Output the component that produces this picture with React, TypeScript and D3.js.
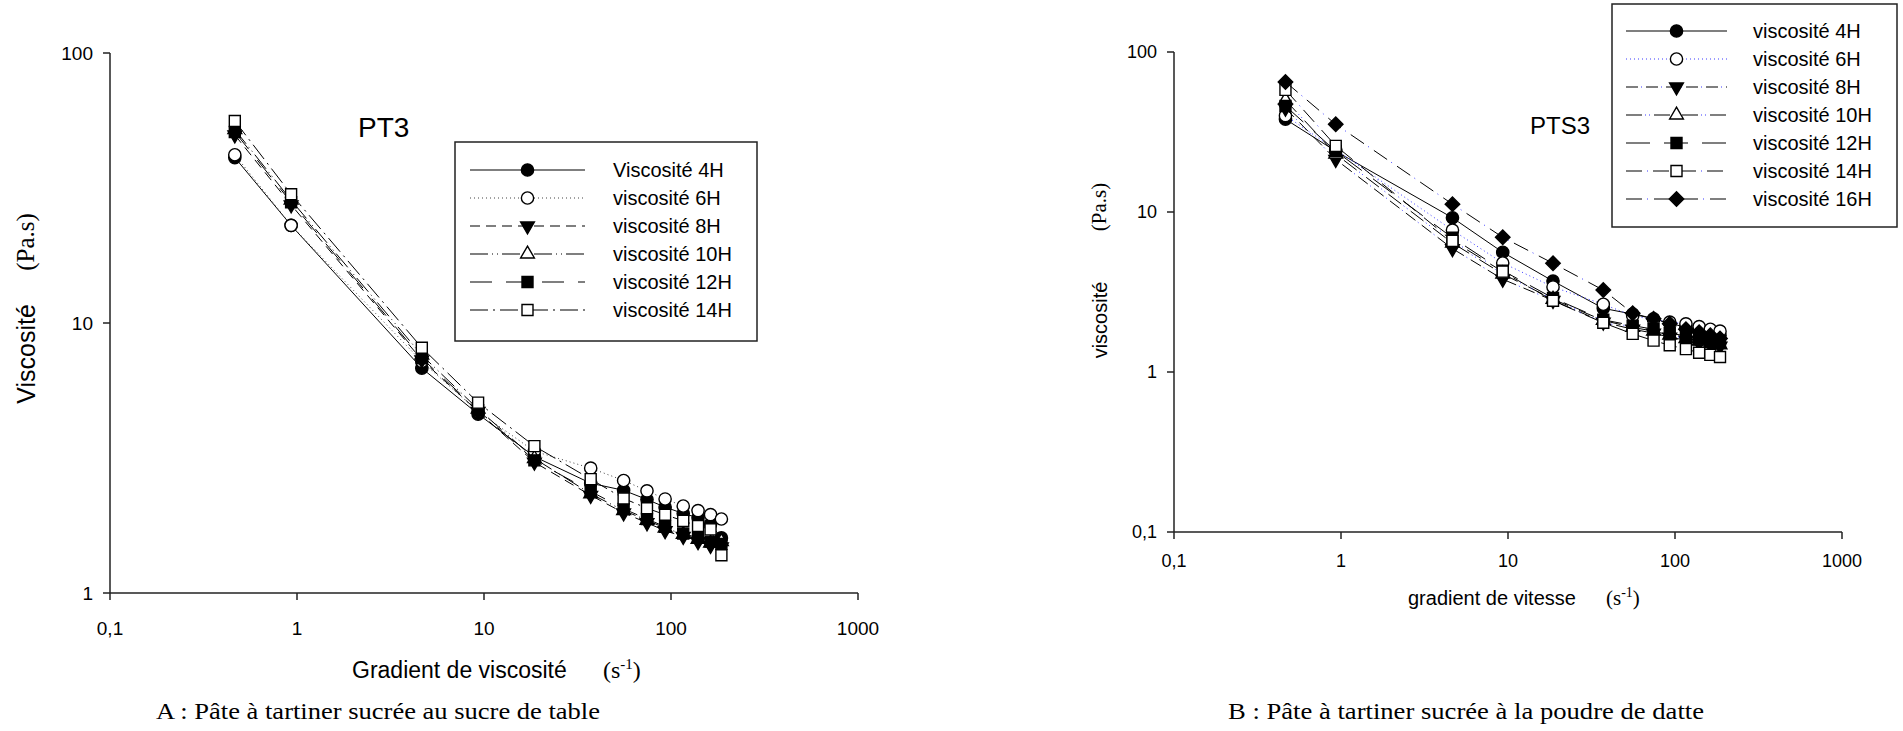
import React from "react";
import * as d3 from "d3";

// shear rate (s-1), same for every series
const shearRate = [0.465, 0.93, 4.65, 9.3, 18.6, 37.2, 55.8, 74.4, 93, 116.25, 139.5, 162.75, 186];
const xTicks = [0.1, 1, 10, 100, 1000];
const yTicksA = [1, 10, 100];
const yTicksB = [0.1, 1, 10, 100];

// A : PT3
const labelsA = ["Viscosité 4H", "viscosité 6H", "viscosité 8H", "viscosité 10H", "viscosité 12H", "viscosité 14H"];
const visc4hA = [41, 23, 6.8, 4.6, 3.2, 2.55, 2.4, 2.22, 2.08, 1.97, 1.9, 1.8, 1.6];
const visc6hA = [42, 23, 7.2, 4.7, 3.35, 2.9, 2.61, 2.39, 2.23, 2.1, 2.02, 1.95, 1.88];
const visc8hA = [49.7, 27.4, 7.3, 4.7, 3.05, 2.3, 1.98, 1.82, 1.7, 1.62, 1.55, 1.5, 1.48];
const visc10hA = [52, 28.5, 7.6, 4.8, 3.15, 2.33, 2.02, 1.86, 1.74, 1.65, 1.58, 1.53, 1.55];
const visc12hA = [51, 28, 7.4, 4.75, 3.1, 2.38, 2.05, 1.88, 1.76, 1.66, 1.6, 1.55, 1.52];
const visc14hA = [56, 30, 8.1, 5.07, 3.5, 2.64, 2.24, 2.06, 1.95, 1.85, 1.77, 1.72, 1.38];

// B : PTS3
const labelsB = ["viscosité 4H", "viscosité 6H", "viscosité 8H", "viscosité 10H", "viscosité 12H", "viscosité 14H", "viscosité 16H"];
const visc4hB = [38, 24, 9.2, 5.6, 3.7, 2.5, 2.3, 2.15, 2.02, 1.9, 1.82, 1.75, 1.7];
const visc6hB = [40, 24.5, 7.7, 4.8, 3.4, 2.65, 2.25, 2.12, 2.05, 2.0, 1.92, 1.85, 1.8];
const visc8hB = [44.5, 21.3, 5.9, 3.8, 2.8, 2.05, 1.85, 1.75, 1.65, 1.58, 1.52, 1.48, 1.45];
const visc10hB = [50, 23, 6.4, 4.1, 2.85, 2.1, 1.9, 1.8, 1.7, 1.62, 1.56, 1.5, 1.48];
const visc12hB = [46, 24, 6.9, 4.3, 2.9, 2.12, 1.95, 1.85, 1.75, 1.68, 1.6, 1.55, 1.52];
const visc14hB = [58, 25.9, 6.6, 4.24, 2.79, 2.03, 1.73, 1.57, 1.47, 1.39, 1.32, 1.28, 1.24];
const visc16hB = [65, 35.3, 11.2, 6.95, 4.78, 3.25, 2.33, 2.15, 2.0, 1.85, 1.77, 1.7, 1.62];

const SANS = "'Liberation Sans', Arial, sans-serif";
const SERIF = "'Liberation Serif', 'Times New Roman', serif";
const BLUE = "#3a3aff";

type Layer = { color: string; dash: string };
type Style = { layers: Layer[]; marker: string; filled: boolean };

const stylesA: Style[] = [
  { layers: [{ color: "#000", dash: "none" }], marker: "circle", filled: true },
  { layers: [{ color: "#444", dash: "1 3" }], marker: "circle", filled: false },
  { layers: [{ color: "#000", dash: "10 6" }], marker: "triDown", filled: true },
  { layers: [{ color: "#000", dash: "18 4 1 4 1 4" }], marker: "triUp", filled: false },
  { layers: [{ color: "#000", dash: "22 14" }], marker: "square", filled: true },
  { layers: [{ color: "#000", dash: "18 5 2 5" }], marker: "square", filled: false },
];

const stylesB: Style[] = [
  { layers: [{ color: "#000", dash: "none" }], marker: "circle", filled: true },
  { layers: [{ color: BLUE, dash: "1 3" }], marker: "circle", filled: false },
  { layers: [{ color: "#000", dash: "12 8" }, { color: BLUE, dash: "0 15 1 4" }], marker: "triDown", filled: true },
  { layers: [{ color: "#000", dash: "16 12" }, { color: BLUE, dash: "0 19 1 3 1 4" }], marker: "triUp", filled: false },
  { layers: [{ color: "#000", dash: "24 14" }], marker: "square", filled: true },
  { layers: [{ color: "#000", dash: "16 11" }, { color: BLUE, dash: "0 21 1 5" }], marker: "square", filled: false },
  { layers: [{ color: "#000", dash: "16 12" }, { color: BLUE, dash: "0 21 1 6" }], marker: "diamond", filled: true },
];

const fmt = (v: number) => (v < 1 ? "0,1" : String(v));

function markerPath(m: string) {
  if (m === "circle") return d3.symbol(d3.symbolCircle, 118)() as string;
  if (m === "square") return d3.symbol(d3.symbolSquare, 121)() as string;
  if (m === "diamond") return d3.symbol(d3.symbolSquare, 105)() as string;
  return d3.symbol(d3.symbolTriangle, 82)() as string;
}

function Marker({ m, filled, x, y }: { m: string; filled: boolean; x: number; y: number }) {
  const rot = m === "triDown" ? 180 : m === "diamond" ? 45 : 0;
  return (
    <path
      d={markerPath(m)}
      transform={`translate(${x},${y}) rotate(${rot})`}
      fill={filled ? "#000" : "#fff"}
      stroke="#000"
      strokeWidth={1.4}
    />
  );
}

type PanelProps = {
  x0: number; x1: number; yTop: number; yBottom: number;
  yDomain: [number, number]; yTicks: number[];
  series: number[][]; labels: string[]; styles: Style[];
  tickSize: number; xLabelY: number;
  legend: { x: number; y: number; w: number; h: number; row0: number; lx0: number; lx1: number; tx: number };
  fontSize: number;
};

function Panel(p: PanelProps) {
  const x = d3.scaleLog().domain([0.1, 1000]).range([p.x0, p.x1]);
  const y = d3.scaleLog().domain(p.yDomain).range([p.yBottom, p.yTop]);
  const line = d3.line<number>().x((_, i) => x(shearRate[i])).y((v) => y(v));
  const lg = p.legend;
  return (
    <g>
      {/* axes */}
      <line x1={p.x0} x2={p.x0} y1={p.yTop} y2={p.yBottom} stroke="#222" strokeWidth={1.5} />
      <line x1={p.x0} x2={p.x1} y1={p.yBottom} y2={p.yBottom} stroke="#222" strokeWidth={1.5} />
      {p.yTicks.map((t) => (
        <g key={"y" + t}>
          <line x1={p.x0 - 7} x2={p.x0} y1={y(t)} y2={y(t)} stroke="#222" strokeWidth={1.5} />
          <text x={p.x0 - 17} y={y(t) + p.tickSize * 0.36} textAnchor="end" fontFamily={SANS} fontSize={p.tickSize}>{fmt(t)}</text>
        </g>
      ))}
      {xTicks.map((t) => (
        <g key={"x" + t}>
          <line x1={x(t)} x2={x(t)} y1={p.yBottom} y2={p.yBottom + 7} stroke="#222" strokeWidth={1.5} />
          <text x={x(t)} y={p.xLabelY} textAnchor="middle" fontFamily={SANS} fontSize={p.tickSize}>{fmt(t)}</text>
        </g>
      ))}

      {/* series */}
      {p.series.map((s, si) => (
        <g key={"s" + si}>
          {p.styles[si].layers.map((l, li) => (
            <path key={li} d={line(s) as string} fill="none" stroke={l.color} strokeWidth={1} strokeDasharray={l.dash} />
          ))}
          {s.map((v, i) => (
            <Marker key={i} m={p.styles[si].marker} filled={p.styles[si].filled} x={x(shearRate[i])} y={y(v)} />
          ))}
        </g>
      ))}

      {/* legend */}
      <rect x={lg.x} y={lg.y} width={lg.w} height={lg.h} fill="#fff" stroke="#222" strokeWidth={1.5} />
      {p.labels.map((name, i) => {
        const ry = lg.row0 + i * 28;
        const st = p.styles[i];
        return (
          <g key={"l" + i}>
            {st.layers.map((l, li) => (
              <line key={li} x1={lg.lx0} x2={lg.lx1} y1={ry} y2={ry} stroke={l.color} strokeWidth={1.2} strokeDasharray={l.dash} />
            ))}
            <Marker m={st.marker} filled={st.filled} x={(lg.lx0 + lg.lx1) / 2} y={ry} />
            <text x={lg.tx} y={ry + 7} fontFamily={SANS} fontSize={p.fontSize}>{name}</text>
          </g>
        );
      })}
    </g>
  );
}

export default function App() {
  return (
    <svg width={1903} height={731} style={{ position: "absolute", left: 0, top: 0, background: "#fff" }}>
      <Panel
        x0={110} x1={858} yTop={53} yBottom={593}
        yDomain={[1, 100]} yTicks={yTicksA}
        series={[visc4hA, visc6hA, visc8hA, visc10hA, visc12hA, visc14hA]}
        labels={labelsA} styles={stylesA}
        tickSize={19} xLabelY={635}
        legend={{ x: 455, y: 142, w: 302, h: 199, row0: 170, lx0: 470, lx1: 585, tx: 613 }}
        fontSize={20}
      />
      <text x={358} y={137} fontFamily={SANS} fontSize={28}>PT3</text>
      <text transform="translate(35,354) rotate(-90)" textAnchor="middle" fontFamily={SANS} fontSize={25}>Viscosité</text>
      <text transform="translate(34,242) rotate(-90)" textAnchor="middle" fontFamily={SERIF} fontSize={25}>(Pa.s)</text>
      <text x={352} y={678} fontFamily={SANS} fontSize={23}>Gradient de viscosité</text>
      <text x={603} y={678} fontFamily={SERIF} fontSize={24}>
        (s<tspan dy={-9} fontSize={15}>-1</tspan><tspan dy={9}>)</tspan>
      </text>
      <text x={156} y={719} fontFamily={SERIF} fontSize={23} textLength={444} lengthAdjust="spacingAndGlyphs">A : Pâte à tartiner sucrée au sucre de table</text>

      <Panel
        x0={1174} x1={1842} yTop={52} yBottom={532}
        yDomain={[0.1, 100]} yTicks={yTicksB}
        series={[visc4hB, visc6hB, visc8hB, visc10hB, visc12hB, visc14hB, visc16hB]}
        labels={labelsB} styles={stylesB}
        tickSize={18} xLabelY={567}
        legend={{ x: 1612, y: 4, w: 285, h: 223, row0: 31, lx0: 1626, lx1: 1727, tx: 1753 }}
        fontSize={20}
      />
      <text x={1530} y={134} fontFamily={SANS} fontSize={24}>PTS3</text>
      <text transform="translate(1107,320) rotate(-90)" textAnchor="middle" fontFamily={SANS} fontSize={20}>viscosité</text>
      <text transform="translate(1106,207) rotate(-90)" textAnchor="middle" fontFamily={SERIF} fontSize={21}>(Pa.s)</text>
      <text x={1408} y={605} fontFamily={SANS} fontSize={20}>gradient de vitesse</text>
      <text x={1606} y={605} fontFamily={SERIF} fontSize={21}>
        (s<tspan dy={-8} fontSize={14}>-1</tspan><tspan dy={8}>)</tspan>
      </text>
      <text x={1228} y={719} fontFamily={SERIF} fontSize={23} textLength={476} lengthAdjust="spacingAndGlyphs">B : Pâte à tartiner sucrée à la poudre de datte</text>
    </svg>
  );
}
